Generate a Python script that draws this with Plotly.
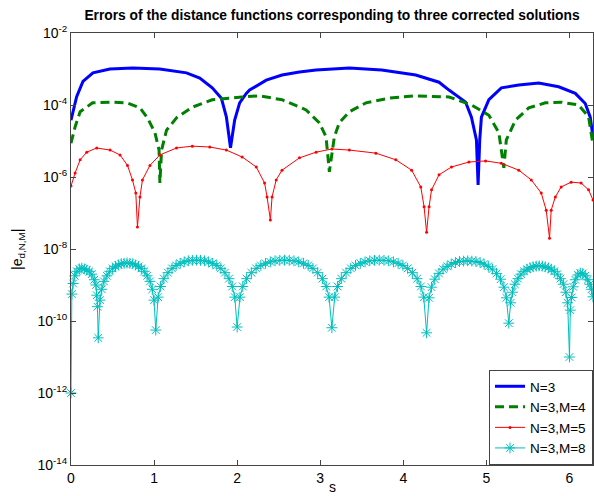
import plotly.graph_objects as go

# ---------------- data ----------------
s_n3 = [0, 0.068, 0.144, 0.264, 0.468, 0.744, 1.068, 1.39, 1.55, 1.70, 1.81, 1.87, 1.92, 1.97,
        2.03, 2.11, 2.15, 2.35, 2.54, 2.75, 2.95, 3.35, 3.74, 4.15, 4.43, 4.55, 4.75, 4.82, 4.88,
        4.90, 4.92, 4.94, 5.03, 5.18, 5.39, 5.63, 5.87, 6.07, 6.19, 6.25, 6.283]
e_n3 = [3.8e-5, 1.7e-4, 4.5e-4, 7.8e-4, 1.0e-3, 1.07e-3, 1.0e-3, 7.8e-4, 5.6e-4, 3.0e-4, 1.55e-4,
        4.7e-5, 6.5e-6, 3.8e-5, 1.15e-4, 2.1e-4, 2.6e-4, 4.9e-4, 6.8e-4, 8.3e-4, 9.4e-4, 1.07e-3,
        9.4e-4, 6.8e-4, 4.3e-4, 2.6e-4, 1.2e-4, 4.6e-5, 1.07e-5, 6e-7, 1.07e-5, 4.6e-5, 1.4e-4,
        3.0e-4, 3.6e-4, 4.1e-4, 3.2e-4, 2.1e-4, 1.1e-4, 4.6e-5, 1.3e-5]

s_m4 = [0, 0.05, 0.11, 0.26, 0.47, 0.67, 0.83, 0.92, 1.01, 1.06, 1.07, 1.09, 1.15, 1.27, 1.46,
        1.70, 2.06, 2.27, 2.54, 2.83, 2.99, 3.07, 3.11, 3.17, 3.23, 3.35, 3.55, 3.83, 4.15, 4.55,
        4.82, 5.03, 5.15, 5.21, 5.24, 5.35, 5.51, 5.71, 5.90, 6.11, 6.23, 6.283]
e_m4 = [8.7e-6, 2.5e-5, 6.5e-5, 1.15e-4, 1.2e-4, 1.15e-4, 8.3e-5, 4.4e-5, 1.7e-5, 5.6e-6, 6.8e-7,
        5.6e-6, 2.0e-5, 4.4e-5, 8.7e-5, 1.4e-4, 1.67e-4, 1.8e-4, 1.4e-4, 7.3e-5, 3.2e-5, 1.3e-5,
        1.4e-6, 1.3e-5, 3.2e-5, 6.5e-5, 1.15e-4, 1.55e-4, 1.8e-4, 1.67e-4, 1.0e-4, 5.2e-5, 1.7e-5,
        1.8e-6, 1.07e-5, 3.8e-5, 8.3e-5, 1.15e-4, 1.2e-4, 1.0e-4, 4.7e-5, 8e-6]

s_m5 = [0, 0.05, 0.11, 0.19, 0.31, 0.47, 0.59, 0.68, 0.74, 0.78, 0.80, 0.83, 0.86, 0.95, 1.07,
        1.27, 1.46, 1.67, 1.87, 2.06, 2.23, 2.33, 2.36, 2.40, 2.42, 2.47, 2.54, 2.75, 2.95, 3.14,
        3.35, 3.67, 3.91, 4.10, 4.21, 4.25, 4.28, 4.31, 4.34, 4.43, 4.58, 4.79, 4.99, 5.18, 5.39,
        5.54, 5.66, 5.72, 5.76, 5.78, 5.83, 5.90, 6.02, 6.14, 6.23, 6.283]
e_m5 = [5.6e-7, 1.3e-6, 3.0e-6, 4.9e-6, 6.4e-6, 5.6e-6, 4.1e-6, 2.1e-6, 8.3e-7, 3.6e-7, 4.1e-8,
        2.8e-7, 8.3e-7, 2.1e-6, 4.1e-6, 6.4e-6, 7.2e-6, 6.8e-6, 5.6e-6, 3.6e-6, 1.9e-6, 6.8e-7,
        2.8e-7, 6.4e-8, 2.8e-7, 8.3e-7, 1.55e-6, 3.4e-6, 4.9e-6, 6.0e-6, 5.6e-6, 4.6e-6, 3.0e-6,
        1.55e-6, 5.3e-7, 1.5e-7, 2.9e-8, 1.5e-7, 4.4e-7, 1.15e-6, 1.9e-6, 2.6e-6, 2.8e-6, 2.4e-6,
        1.55e-6, 8.3e-7, 3.6e-7, 1.2e-7, 2.0e-8, 1.2e-7, 2.8e-7, 5.3e-7, 7.2e-7, 6.8e-7, 4.4e-7,
        2.3e-7]

s_m8 = [0, 0.01, 0.025, 0.045, 0.07, 0.10, 0.13, 0.16, 0.19, 0.22, 0.25, 0.28, 0.30, 0.31, 0.318,
        0.328,
        0.349, 0.370, 0.397, 0.432, 0.466, 0.501, 0.536, 0.570, 0.605, 0.639, 0.674, 0.709, 0.743,
        0.778, 0.812, 0.847, 0.882, 0.916, 0.951, 0.978, 0.999,
        1.02,
        1.049, 1.079, 1.118, 1.167, 1.216, 1.265, 1.314, 1.363, 1.412, 1.461, 1.51, 1.559, 1.608,
        1.657, 1.706, 1.755, 1.804, 1.853, 1.902, 1.941, 1.971,
        2.00,
        2.034, 2.068, 2.114, 2.171, 2.228, 2.285, 2.342, 2.399, 2.456, 2.513, 2.57, 2.627, 2.684,
        2.741, 2.798, 2.855, 2.912, 2.969, 3.026, 3.072, 3.106,
        3.14,
        3.174, 3.208, 3.254, 3.311, 3.368, 3.425, 3.482, 3.539, 3.596, 3.653, 3.71, 3.767, 3.824,
        3.881, 3.938, 3.995, 4.052, 4.109, 4.166, 4.212, 4.246,
        4.28,
        4.310, 4.339, 4.379, 4.429, 4.478, 4.528, 4.577, 4.627, 4.676, 4.726, 4.775, 4.825, 4.874,
        4.924, 4.973, 5.023, 5.072, 5.122, 5.171, 5.211, 5.240,
        5.27,
        5.292, 5.314, 5.343, 5.380, 5.416, 5.453, 5.489, 5.526, 5.562, 5.599, 5.635, 5.672, 5.708,
        5.745, 5.781, 5.818, 5.854, 5.891, 5.927, 5.956, 5.978,
        6.00,
        6.01, 6.025, 6.045, 6.07, 6.10, 6.13, 6.16, 6.19, 6.22, 6.245, 6.265, 6.283]
e_m8 = [1.0e-12, 5.6e-10, 1.1e-9, 1.8e-9, 2.4e-9, 2.8e-9, 2.95e-9, 2.8e-9, 2.6e-9, 2.4e-9, 2.0e-9,
        1.4e-9, 1.0e-9, 5.2e-10, 2.5e-10,
        3.4e-11,
        3.8e-10, 7.6e-10, 1.26e-9, 1.8e-9, 2.4e-9, 2.9e-9, 3.3e-9, 3.6e-9, 3.9e-9, 4.0e-9, 4.1e-9,
        4.0e-9, 3.9e-9, 3.6e-9, 3.3e-9, 2.9e-9, 2.4e-9, 1.8e-9, 1.26e-9, 7.6e-10, 3.8e-10,
        5.6e-11,
        4.6e-10, 9.1e-10, 1.5e-9, 2.2e-9, 2.9e-9, 3.5e-9, 4.0e-9, 4.4e-9, 4.7e-9, 4.84e-9, 4.9e-9,
        4.84e-9, 4.7e-9, 4.4e-9, 4.0e-9, 3.5e-9, 2.9e-9, 2.2e-9, 1.5e-9, 9.1e-10, 4.6e-10,
        6.8e-11,
        4.6e-10, 9.1e-10, 1.5e-9, 2.2e-9, 2.9e-9, 3.5e-9, 4.0e-9, 4.4e-9, 4.7e-9, 4.84e-9, 4.9e-9,
        4.84e-9, 4.7e-9, 4.4e-9, 4.0e-9, 3.5e-9, 2.9e-9, 2.2e-9, 1.5e-9, 9.1e-10, 4.6e-10,
        6.5e-11,
        4.6e-10, 9.1e-10, 1.5e-9, 2.2e-9, 2.9e-9, 3.5e-9, 4.0e-9, 4.4e-9, 4.7e-9, 4.84e-9, 4.9e-9,
        4.84e-9, 4.7e-9, 4.4e-9, 4.0e-9, 3.5e-9, 2.9e-9, 2.2e-9, 1.5e-9, 9.1e-10, 4.6e-10,
        4.7e-11,
        4.4e-10, 8.7e-10, 1.45e-9, 2.1e-9, 2.75e-9, 3.3e-9, 3.8e-9, 4.2e-9, 4.5e-9, 4.6e-9, 4.7e-9,
        4.6e-9, 4.5e-9, 4.2e-9, 3.8e-9, 3.3e-9, 2.75e-9, 2.1e-9, 1.45e-9, 8.7e-10, 4.4e-10,
        8.7e-11,
        3.2e-10, 6.3e-10, 1.05e-9, 1.5e-9, 2.0e-9, 2.4e-9, 2.75e-9, 3.0e-9, 3.2e-9, 3.35e-9, 3.4e-9,
        3.35e-9, 3.2e-9, 3.0e-9, 2.75e-9, 2.4e-9, 2.0e-9, 1.5e-9, 1.05e-9, 6.3e-10, 3.2e-10,
        1.0e-11,
        2.0e-10, 4.5e-10, 8.9e-10, 1.4e-9, 1.9e-9, 2.15e-9, 2.1e-9, 1.8e-9, 1.4e-9, 1.05e-9, 7.6e-10,
        4.7e-10]

names = ["N=3", "N=3,M=4", "N=3,M=5", "N=3,M=8"]
x_ticks = [0, 1, 2, 3, 4, 5, 6]
y_tick_exps = [-14, -12, -10, -8, -6, -4, -2]
title_text = "Errors of the distance functions corresponding to three corrected solutions"

# ---------------- figure ----------------
FONT = "Liberation Sans"
fig = go.Figure()
fig.add_trace(go.Scatter(x=s_n3, y=e_n3, mode="lines", name=names[0],
                         line=dict(color="#0000FF", width=3)))
fig.add_trace(go.Scatter(x=s_m4, y=e_m4, mode="lines", name=names[1],
                         line=dict(color="#008000", width=3, dash="9px,5px")))
fig.add_trace(go.Scatter(x=s_m5, y=e_m5, mode="lines+markers", name=names[2],
                         line=dict(color="#FF0000", width=1),
                         marker=dict(symbol="circle", size=3, color="#FF0000")))
fig.add_trace(go.Scatter(x=s_m8, y=e_m8, mode="lines+markers", name=names[3],
                         line=dict(color="#00BFBF", width=1),
                         marker=dict(symbol="asterisk-open", size=9,
                                     line=dict(color="#00BFBF", width=1)),
                         cliponaxis=False))

axis_common = dict(showline=True, linecolor="#444", linewidth=1, mirror="ticks",
                   ticks="inside", ticklen=5, tickcolor="#444", showgrid=False,
                   zeroline=False, tickfont=dict(family=FONT, size=14, color="black"))

fig.update_xaxes(range=[0, 6.2832], tickvals=x_ticks, ticktext=[str(v) for v in x_ticks],
                 **axis_common)
fig.update_yaxes(type="log", range=[-14, -2],
                 tickvals=[10.0 ** k for k in y_tick_exps],
                 ticktext=["10<sup>%d</sup>" % k for k in y_tick_exps],
                 **axis_common)

fig.update_layout(
    width=594, height=496,
    margin=dict(l=71, r=1, t=33, b=31),
    paper_bgcolor="white", plot_bgcolor="white",
    font=dict(family=FONT, size=13, color="black"),
    title=dict(text="<b>" + title_text + "</b>", x=0.5, xref="paper", xanchor="center",
               y=1 - 15 / 496, yref="container", yanchor="middle",
               font=dict(family=FONT, size=13.8, color="black")),
    legend=dict(x=1, y=0, xanchor="right", yanchor="bottom", bgcolor="white",
                bordercolor="#444", borderwidth=1, tracegroupgap=0,
                font=dict(family=FONT, size=13.5, color="black")),
    annotations=[
        dict(text="|e<sub>d,N,M</sub>|", xref="paper", yref="paper", x=-0.1015, y=0.498,
             xanchor="center", yanchor="middle", textangle=-90, showarrow=False,
             font=dict(family=FONT, size=14, color="black")),
        dict(text="s", xref="paper", yref="paper", x=0.5, y=-0.052,
             xanchor="center", yanchor="middle", showarrow=False,
             font=dict(family=FONT, size=14, color="black")),
    ],
)

fig.write_html("out.html", config={"displayModeBar": False},
               post_script="document.body.style.margin='0';"
                           "document.body.style.padding='0';"
                           "document.body.style.overflow='hidden';")
